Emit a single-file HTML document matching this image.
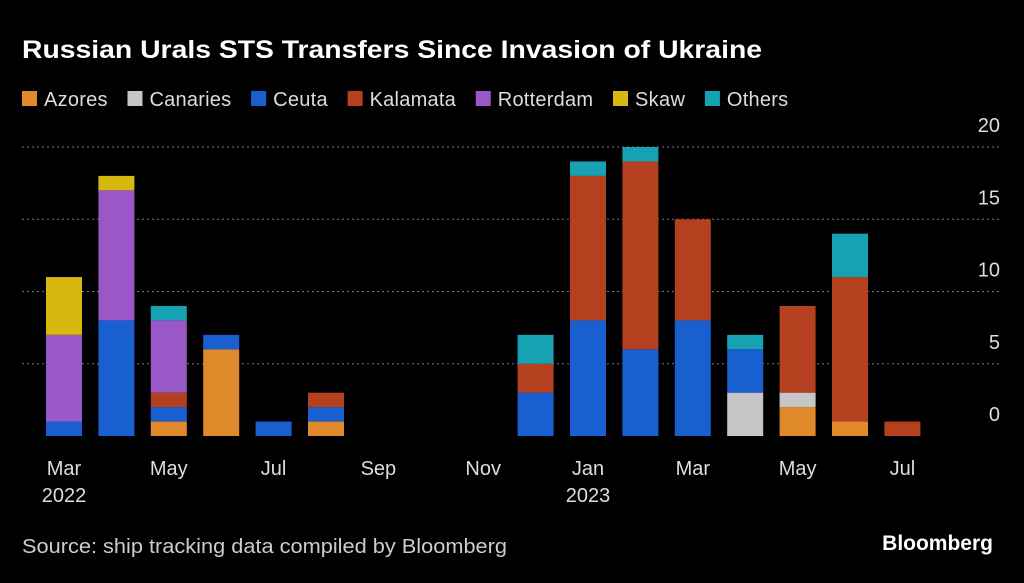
<!DOCTYPE html>
<html><head><meta charset="utf-8"><style>
body{margin:0;background:#000;width:1024px;height:578px;overflow:hidden;font-family:"Liberation Sans",sans-serif;color:#fff}
</style></head><body>
<svg width="1024" height="578">
<text x="22" y="58" font-size="25" font-weight="bold" fill="#fff" textLength="740" lengthAdjust="spacingAndGlyphs">Russian Urals STS Transfers Since Invasion of Ukraine</text>
<g id="legend"></g>
<g id="grid"></g>
<g id="bars"></g>
<g id="xaxis"></g>
<text x="22" y="553" font-size="20" fill="#ccc" textLength="485" lengthAdjust="spacingAndGlyphs">Source: ship tracking data compiled by Bloomberg</text>
<text x="993" y="550" font-size="21" font-weight="bold" fill="#fff" text-anchor="end">Bloomberg</text>
</svg>
<script>
const seriesNames=["Azores","Canaries","Ceuta","Kalamata","Rotterdam","Skaw","Others"];
const colors=["#e08a2c","#c6c6c6","#1a5fd0","#b5401f","#9a58c6","#d6b80e","#17a2b4"];
const months=["Mar22","Apr22","May22","Jun22","Jul22","Aug22","Sep22","Oct22","Nov22","Dec22","Jan23","Feb23","Mar23","Apr23","May23","Jun23","Jul23"];
const azores   =[0,0,1,6,0,1,0,0,0,0,0,0,0,0,2,1,0];
const canaries =[0,0,0,0,0,0,0,0,0,0,0,0,0,3,1,0,0];
const ceuta    =[1,8,1,1,1,1,0,0,0,3,8,6,8,3,0,0,0];
const kalamata =[0,0,1,0,0,1,0,0,0,2,10,13,7,0,6,10,1];
const rotterdam=[6,9,5,0,0,0,0,0,0,0,0,0,0,0,0,0,0];
const skaw     =[4,1,0,0,0,0,0,0,0,0,0,0,0,0,0,0,0];
const others   =[0,0,1,0,0,0,0,0,0,2,1,1,0,1,0,3,0];
const yTicks=[0,5,10,15,20];
const xTickLabels=[["Mar","2022"],["May",""],["Jul",""],["Sep",""],["Nov",""],["Jan","2023"],["Mar",""],["May",""],["Jul",""]];
const series=[azores,canaries,ceuta,kalamata,rotterdam,skaw,others];
const NS="http://www.w3.org/2000/svg";
const y=v=>436-v*14.45, x=i=>64+i*52.4;
function mk(t,a,p){const e=document.createElementNS(NS,t);for(const k in a)e.setAttribute(k,a[k]);p.appendChild(e);return e;}
const lg=document.getElementById('legend');let lx=22;
seriesNames.forEach((n,i)=>{
 const r=mk('rect',{x:lx,y:91,width:15,height:15,fill:colors[i]},lg);
 
 
 const t=mk('text',{x:lx+22,y:106,'font-size':20,fill:'#ddd'},lg);t.textContent=n;
 
 
 const w=t.getComputedTextLength()*1.02;
 t.setAttribute('textLength',w);
 lx+=22+w+20;
});
const g=document.getElementById('grid');
yTicks.forEach(v=>{
 if(v>0){const l=mk('line',{x1:22,x2:1000,y1:y(v),y2:y(v),stroke:'#777','stroke-dasharray':'2,3'},g);
 }
 const t=mk('text',{x:1000,y:y(v)-15,'font-size':20,fill:'#ddd','text-anchor':'end'},g);t.textContent=v;
 
});
const b=document.getElementById('bars');
months.forEach((m,i)=>{let acc=0;
 series.forEach((s,k)=>{const v=s[i];if(!v)return;
  const r=mk('rect',{x:x(i)-18,y:y(acc+v),width:36,height:y(acc)-y(acc+v),fill:colors[k]},b);
  
  acc+=v;});
});
const xa=document.getElementById('xaxis');
xTickLabels.forEach((l,j)=>{const xx=x(j*2);
 const t=mk('text',{x:xx,y:475,'font-size':20,fill:'#ddd','text-anchor':'middle'},xa);t.textContent=l[0];
 
 if(l[1]){const t2=mk('text',{x:xx,y:502,'font-size':20,fill:'#ddd','text-anchor':'middle'},xa);t2.textContent=l[1];
 }
});
</script>
</body></html>
